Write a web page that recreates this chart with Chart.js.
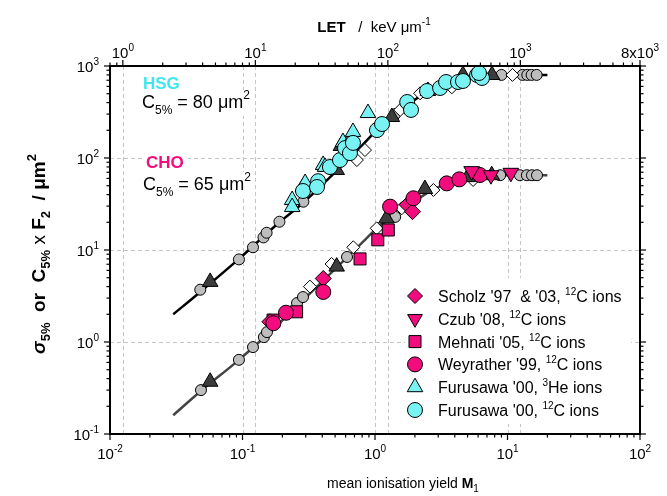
<!DOCTYPE html>
<html>
<head>
<meta charset="utf-8">
<script src="https://cdn.jsdelivr.net/npm/chart.js@4.4.1/dist/chart.umd.min.js"></script>
<style>
  html, body { margin: 0; padding: 0; background: #fff; }
  #wrap { width: 667px; height: 496px; }
</style>
</head>
<body>
<div id="wrap"><canvas id="ionChart" width="667" height="496"></canvas></div>
<script>
// fitted curves (x = mean ionisation yield M1)
const curveM = [0.03, 0.048, 0.094, 0.19, 0.29, 0.55, 0.8, 1.12, 1.34, 1.84, 2.5, 3.5, 4.6, 6.4, 9, 20];
const hsgCurve = [2.0, 3.5, 8.0, 20, 33, 80, 137, 228, 290, 400, 520, 650, 740, 785, 800, 800];
const choCurve = [0.16, 0.29, 0.64, 1.6, 2.9, 7.1, 12, 19, 22, 31, 42, 53, 59, 63.5, 65, 65];

// calculated points (grey circles, dark triangles, open diamonds), [M1, value]
const greyHsg = [[0.048, 3.7], [0.094, 7.9], [0.12, 10.7], [0.144, 13.7], [0.152, 15.4], [0.19, 20.3], [0.288, 33.5], [1.42, 300], [9.0, 800], [13.0, 800], [14.1, 800], [15.2, 800], [16.6, 800]];
const greyCho = [[0.0486, 0.30], [0.094, 0.64], [0.12, 0.88], [0.145, 1.13], [0.153, 1.28], [0.258, 2.65], [0.286, 3.08], [0.615, 8.4], [1.42, 22.9], [8.8, 65], [12.4, 65], [14.0, 65], [15.3, 65], [16.7, 65]];
const darkHsg = [[0.057, 4.5], [0.514, 74], [0.553, 135], [1.34, 279], [2.51, 535], [4.61, 798], [7.64, 798]];
const darkCho = [[0.057, 0.37], [0.514, 6.6], [1.22, 22], [2.38, 46], [5.0, 62], [7.6, 65]];
const openHsg = [[0.73, 95], [0.84, 122], [1.55, 333], [2.19, 505], [3.8, 586], [10.9, 800]];
const openCho = [[0.323, 4.0], [0.47, 7.05], [0.686, 10.7], [1.03, 17.2], [1.59, 28.4], [2.76, 44.9], [5.5, 57.7]];

// measured data
const scholz = [[0.161, 1.66], [0.407, 4.9], [1.75, 31], [1.92, 26.1]];
const czub = [[5.36, 72], [7.5, 65], [10.6, 69]];
const mehnati = [[0.17, 1.73], [0.256, 2.13], [0.771, 8.0], [1.05, 12.9], [1.26, 16.5]];
const weyrather = [[0.171, 1.6], [0.213, 2.08], [0.407, 3.5], [1.30, 29.6], [1.95, 36.5], [3.48, 53], [4.33, 58.6], [6.2, 65.3]];
const furusawaHe = [[0.237, 34.9], [0.237, 29.3], [0.286, 48.4], [0.297, 53.5], [0.406, 84], [0.42, 80], [0.573, 149], [0.647, 153], [0.682, 192], [0.885, 308]];
const furusawaC = [[0.286, 43.8], [0.372, 56], [0.365, 48.4], [0.457, 79.8], [0.544, 95], [0.594, 128], [0.647, 113], [0.682, 146], [1.035, 201], [1.13, 234], [1.75, 406], [1.87, 333], [2.47, 535], [3.10, 577], [3.44, 670], [4.23, 670], [4.61, 687], [5.89, 798], [6.42, 741], [6.09, 839]];

// axes
const xDecades = [-2, -1, 0, 1, 2];
const yDecades = [-1, 0, 1, 2, 3];
const letDecades = [0, 1, 2, 3];
const letMin = 0.8, letMax = 8000;
const letPerM = 80;   // LET = 80 x M1 (from the two axes)

const F = "'Liberation Sans', Arial, Helvetica, sans-serif";
const pink = '#f20c7e';
const cyan = '#78f2f2';
const cyanText = '#3fe6ef';

function pts(arr) { return arr.map(p => ({ x: p[0], y: p[1] })); }
function curve(ys) { return curveM.map((m, i) => ({ x: m, y: ys[i] })); }

function marks(label, data, style, fill, r, order, rot) {
    return {
        label: label,
        data: pts(data),
        showLine: false,
        pointStyle: style,
        pointRadius: r,
        pointRotation: rot || 0,
        pointBackgroundColor: fill,
        pointBorderColor: '#000',
        pointBorderWidth: 1,
        order: order
    };
}

const legendItems = [
    { shape: 'rectRot', fill: pink, r: 7.5, runs: [["Scholz '97  & '03, ", 0], ['12', -7], ['C ions', 0]] },
    { shape: 'triDown', fill: pink, r: 8.5, runs: [["Czub '08, ", 0], ['12', -7], ['C ions', 0]] },
    { shape: 'rect', fill: pink, r: 8.5, runs: [["Mehnati '05, ", 0], ['12', -7], ['C ions', 0]] },
    { shape: 'circle', fill: pink, r: 7.5, runs: [["Weyrather '99, ", 0], ['12', -7], ['C ions', 0]] },
    { shape: 'triangle', fill: cyan, r: 9, runs: [["Furusawa '00, ", 0], ['3', -7], ['He ions', 0]] },
    { shape: 'circle', fill: cyan, r: 7.5, runs: [["Furusawa '00, ", 0], ['12', -7], ['C ions', 0]] }
];

function drawMarker(ctx, shape, x, y, r, fill) {
    ctx.beginPath();
    if (shape === 'circle') {
        ctx.arc(x, y, r, 0, Math.PI * 2);
    } else if (shape === 'rectRot') {
        ctx.moveTo(x, y - r); ctx.lineTo(x + r, y); ctx.lineTo(x, y + r); ctx.lineTo(x - r, y); ctx.closePath();
    } else if (shape === 'rect') {
        const s = r * Math.SQRT1_2;
        ctx.rect(x - s, y - s, 2 * s, 2 * s);
    } else if (shape === 'triangle') {
        ctx.moveTo(x, y - r); ctx.lineTo(x + 0.866 * r, y + r / 2); ctx.lineTo(x - 0.866 * r, y + r / 2); ctx.closePath();
    } else if (shape === 'triDown') {
        ctx.moveTo(x, y + r); ctx.lineTo(x + 0.866 * r, y - r / 2); ctx.lineTo(x - 0.866 * r, y - r / 2); ctx.closePath();
    }
    ctx.fillStyle = fill;
    ctx.fill();
    ctx.strokeStyle = '#000';
    ctx.lineWidth = 1;
    ctx.stroke();
}

// runs: {t, f, dy, c}
function runsWidth(ctx, runs) {
    let w = 0;
    runs.forEach(r => { ctx.font = r.f; w += ctx.measureText(r.t).width; });
    return w;
}
function drawRuns(ctx, runs, x, y, align) {
    const w = runsWidth(ctx, runs);
    let cx = align === 'center' ? x - w / 2 : (align === 'right' ? x - w : x);
    ctx.textAlign = 'left';
    ctx.textBaseline = 'alphabetic';
    runs.forEach(r => {
        ctx.font = r.f;
        ctx.fillStyle = r.c || '#000';
        ctx.fillText(r.t, cx, y + (r.dy || 0));
        cx += ctx.measureText(r.t).width;
    });
    return w;
}
function powLabel(d, size) {
    return [{ t: '10', f: size + 'px ' + F }, { t: String(d), f: Math.round(size * 0.68) + 'px ' + F, dy: -7 }];
}

const notes = [
    { x: 143, y: 89, runs: [{ t: 'HSG', f: 'bold 17px ' + F, c: cyanText }] },
    { x: 142, y: 108, runs: [{ t: 'C', f: '18px ' + F }, { t: '5%', f: '12px ' + F, dy: 6 }, { t: ' = 80 \u03bcm', f: '18px ' + F }, { t: '2', f: '12px ' + F, dy: -9 }] },
    { x: 146, y: 168, runs: [{ t: 'CHO', f: 'bold 17px ' + F, c: pink }] },
    { x: 143, y: 190, runs: [{ t: 'C', f: '18px ' + F }, { t: '5%', f: '12px ' + F, dy: 6 }, { t: ' = 65 \u03bcm', f: '18px ' + F }, { t: '2', f: '12px ' + F, dy: -9 }] }
];

const axisPlugin = {
    id: 'axisPlugin',
    beforeDatasetsDraw(chart) {
        const ctx = chart.ctx, a = chart.chartArea, xs = chart.scales.x, ys = chart.scales.y;
        ctx.save();
        ctx.strokeStyle = '#c6c6c6';
        ctx.lineWidth = 1;
        ctx.setLineDash([4, 3]);
        const gx = xDecades.slice(1, -1).map(d => Math.pow(10, d))
            .concat(letDecades.map(d => Math.pow(10, d) / letPerM));
        gx.forEach(v => {
            const px = Math.round(xs.getPixelForValue(v)) + 0.5;
            ctx.beginPath(); ctx.moveTo(px, a.top); ctx.lineTo(px, a.bottom); ctx.stroke();
        });
        yDecades.slice(1, -1).forEach(d => {
            const py = Math.round(ys.getPixelForValue(Math.pow(10, d))) + 0.5;
            ctx.beginPath(); ctx.moveTo(a.left, py); ctx.lineTo(a.right, py); ctx.stroke();
        });
        ctx.setLineDash([]);
        // white patches under the notes and the legend
        ctx.fillStyle = '#fff';
        notes.forEach(n => {
            const w = runsWidth(ctx, n.runs);
            ctx.fillRect(n.x - 4, n.y - 18, w + 8, 26);
        });
        ctx.fillRect(405, 278, 226, 146);
        ctx.restore();
    },
    afterDatasetsDraw(chart) {
        const ctx = chart.ctx, a = chart.chartArea, xs = chart.scales.x, ys = chart.scales.y;
        ctx.save();
        ctx.strokeStyle = '#000';
        ctx.fillStyle = '#000';

        // ticks
        ctx.lineWidth = 1.2;
        const tick = (x1, y1, x2, y2) => { ctx.beginPath(); ctx.moveTo(x1, y1); ctx.lineTo(x2, y2); ctx.stroke(); };
        xDecades.forEach(d => {
            for (let k = 1; k < 10; k++) {
                const v = k * Math.pow(10, d);
                if (v > 100.0001) break;
                const px = xs.getPixelForValue(v);
                const len = k === 1 ? 6 : 3.5;
                tick(px, a.bottom, px, a.bottom + len);
            }
        });
        yDecades.forEach(d => {
            for (let k = 1; k < 10; k++) {
                const v = k * Math.pow(10, d);
                if (v > 1000.0001) break;
                const py = ys.getPixelForValue(v);
                const len = k === 1 ? 6 : 3.5;
                tick(a.left - len, py, a.left, py);
                tick(a.right, py, a.right + len, py);
            }
        });
        [-1].concat(letDecades).forEach(d => {
            for (let k = 1; k < 10; k++) {
                const v = k * Math.pow(10, d);
                if (v < letMin - 0.0001) continue;
                if (v > letMax + 0.0001) break;
                const px = xs.getPixelForValue(v / letPerM);
                const len = (k === 1 || v === letMax) ? 6 : 3.5;
                tick(px, a.top - len, px, a.top);
            }
        });

        // frame
        ctx.lineWidth = 2;
        ctx.strokeRect(a.left, a.top, a.right - a.left, a.bottom - a.top);

        // tick labels
        xDecades.forEach(d => {
            drawRuns(ctx, powLabel(d, 15), xs.getPixelForValue(Math.pow(10, d)), a.bottom + 25, 'center');
        });
        yDecades.forEach(d => {
            drawRuns(ctx, powLabel(d, 15), a.left - 11, ys.getPixelForValue(Math.pow(10, d)) + 6, 'right');
        });
        letDecades.forEach(d => {
            drawRuns(ctx, powLabel(d, 15), xs.getPixelForValue(Math.pow(10, d) / letPerM), a.top - 8, 'center');
        });
        drawRuns(ctx, [{ t: '8x10', f: '15px ' + F }, { t: '3', f: '10px ' + F, dy: -7 }],
            xs.getPixelForValue(letMax / letPerM), a.top - 8, 'center');

        // axis titles
        drawRuns(ctx, [{ t: 'LET', f: 'bold 15px ' + F }, { t: '   /  keV \u03bcm', f: '15px ' + F }, { t: '-1', f: '10px ' + F, dy: -7 }],
            374, 32, 'center');
        drawRuns(ctx, [{ t: 'mean ionisation yield ', f: '14px ' + F }, { t: 'M', f: 'bold 14px ' + F }, { t: '1', f: '10px ' + F, dy: 4 }],
            403, 488, 'center');
        ctx.save();
        ctx.translate(45, 254);
        ctx.rotate(-Math.PI / 2);
        drawRuns(ctx, [
            { t: '\u03c3', f: 'italic bold 19px ' + F },
            { t: '5%', f: 'bold 13px ' + F, dy: 5 },
            { t: '  or  C', f: 'bold 19px ' + F },
            { t: '5%', f: 'bold 13px ' + F, dy: 5 },
            { t: ' x ', f: '19px ' + F },
            { t: 'F', f: 'bold 19px ' + F },
            { t: '2', f: 'bold 13px ' + F, dy: 5 },
            { t: '  / \u03bcm', f: 'bold 19px ' + F },
            { t: '2', f: 'bold 13px ' + F, dy: -9 }
        ], 0, 0, 'center');
        ctx.restore();

        // cell-line notes
        notes.forEach(n => drawRuns(ctx, n.runs, n.x, n.y, 'left'));

        // legend
        legendItems.forEach((it, i) => {
            const cy = 296 + i * 22.8;
            drawMarker(ctx, it.shape, 415, cy, it.r, it.fill);
            const runs = it.runs.map(r => ({ t: r[0], f: (r[1] ? '10px ' : '16px ') + F, dy: r[1] }));
            drawRuns(ctx, runs, 438, cy + 6, 'left');
        });
        ctx.restore();
    }
};

const ctx = document.getElementById('ionChart').getContext('2d');
const ionChart = new Chart(ctx, {
    type: 'scatter',
    data: {
        datasets: [
            { label: 'HSG fit', data: curve(hsgCurve), showLine: true, pointRadius: 0, borderColor: '#000', borderWidth: 2.5, cubicInterpolationMode: 'monotone', order: 20 },
            { label: 'CHO fit', data: curve(choCurve), showLine: true, pointRadius: 0, borderColor: '#444', borderWidth: 2.5, cubicInterpolationMode: 'monotone', order: 20 },
            marks('calc HSG', greyHsg, 'circle', '#bdbdbd', 5.5, 15),
            marks('calc CHO', greyCho, 'circle', '#bdbdbd', 5.5, 15),
            marks('open HSG', openHsg, 'rectRot', '#fff', 6.5, 14),
            marks('open CHO', openCho, 'rectRot', '#fff', 6.5, 14),
            marks('dark HSG', darkHsg, 'triangle', '#3c3c3c', 9, 13),
            marks('dark CHO', darkCho, 'triangle', '#3c3c3c', 9, 13),
            marks('Furusawa He', furusawaHe, 'triangle', cyan, 9, 6),
            marks('Furusawa C', furusawaC, 'circle', cyan, 7.5, 5),
            marks('Mehnati', mehnati, 'rect', pink, 8.5, 4),
            marks('Scholz', scholz, 'rectRot', pink, 8, 3),
            marks('Weyrather', weyrather, 'circle', pink, 7.5, 2),
            marks('Czub', czub, 'triangle', pink, 9, 1, 180)
        ]
    },
    options: {
        responsive: false,
        animation: false,
        layout: { padding: { left: 110, top: 66, right: 27, bottom: 62 } },
        plugins: { legend: { display: false }, tooltip: { enabled: false } },
        scales: {
            x: { type: 'logarithmic', min: 0.01, max: 100, display: false },
            y: { type: 'logarithmic', min: 0.1, max: 1000, display: false }
        }
    },
    plugins: [axisPlugin]
});
</script>
</body>
</html>
